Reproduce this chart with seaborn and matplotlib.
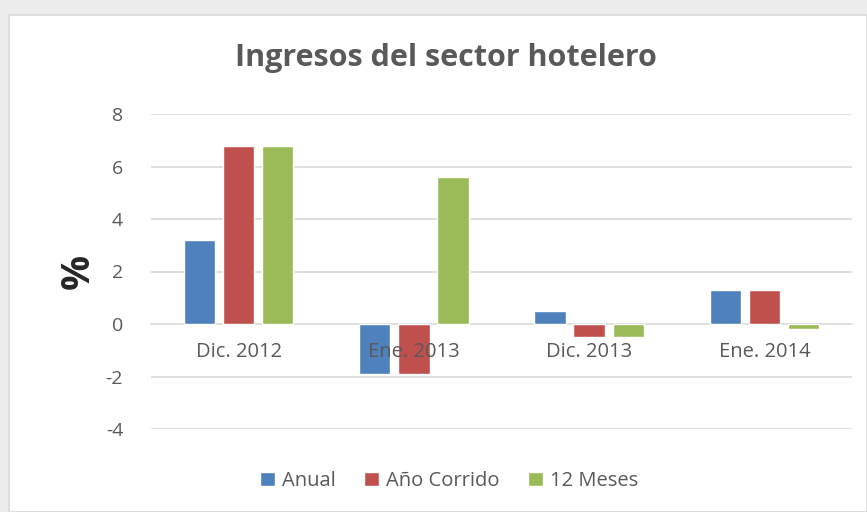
import matplotlib
matplotlib.use("Agg")
import matplotlib.pyplot as plt
import seaborn as sns
import pandas as pd
from matplotlib.patches import Rectangle
from matplotlib.ticker import FixedLocator

categories = ["Dic. 2012", "Ene. 2013", "Dic. 2013", "Ene. 2014"]
series = ["Anual", "Año Corrido", "12 Meses"]
anual = [3.2, -1.9, 0.5, 1.3]
ano_corrido = [6.8, -1.9, -0.5, 1.3]
doce_meses = [6.8, 5.6, -0.5, -0.2]
yticks = [-4, -2, 0, 2, 4, 6, 8]

rows = []
for name, vals in zip(series, [anual, ano_corrido, doce_meses]):
    for c, v in zip(categories, vals):
        rows.append({"Periodo": c, "Serie": name, "Valor": v})
df = pd.DataFrame(rows)

sns.set_theme(style="white")
plt.rcParams['font.family'] = ['Open Sans', 'DejaVu Sans']

fig = plt.figure(figsize=(8.67, 5.12), dpi=100)
fig.patch.set_facecolor('#ececec')
fig.patches.append(Rectangle((9/867, 0), 1 - 9/867, 1 - 15/512, transform=fig.transFigure,
                             facecolor='white', edgecolor='#d9d9d9', linewidth=1.2, zorder=-10))

ax = fig.add_axes([151/867, 1 - 429/512, (852-151)/867, (429-114)/512])
ax.set_zorder(1)
ax.set_facecolor('none')
palette = ["#4F81BD", "#C0504D", "#9BBB59"]
sns.barplot(data=df, x="Periodo", y="Valor", hue="Serie", order=categories, hue_order=series,
            palette=palette, width=0.67, gap=0.2, ax=ax, saturation=1, errorbar=None)

ax.set_ylim(-4, 8)
ax.set_xlim(-0.5, 3.5)
ax.set_yticks(yticks)
ax.set_yticklabels([str(t) for t in yticks], fontsize=14, color='#595959')
ax.tick_params(axis='y', length=0, pad=20)
for t in yticks:
    if t != 0:
        ax.axhline(t, color='#d9d9d9', linewidth=1.2, zorder=0)

for s in ['top', 'right', 'left']:
    ax.spines[s].set_visible(False)
ax.spines['bottom'].set_position(('data', 0))
ax.spines['bottom'].set_color('#d9d9d9')
ax.spines['bottom'].set_linewidth(1.2)
ax.spines['bottom'].set_zorder(0.5)

ax.set_xticks(range(len(categories)))
ax.set_xticklabels(categories, fontsize=14.5, color='#595959')
ax.tick_params(axis='x', which='major', length=0, pad=13)
ax.xaxis.set_minor_locator(FixedLocator([-0.5, 0.5, 1.5, 2.5, 3.5]))
ax.tick_params(axis='x', which='minor', length=6, width=1.2, color='#d9d9d9', direction='out')
ax.xaxis.set_zorder(5)

ax.set_xlabel("")
ax.set_ylabel("%", fontsize=28, fontweight='bold', color='#262626', labelpad=6)

fig.text(446/867, 1 - 58/512, "Ingresos del sector hotelero", ha='center', va='center',
         fontsize=22, fontweight='bold', color='#595959')

ax.legend(loc='center', bbox_to_anchor=(449/867, 1 - 481/512), bbox_transform=fig.transFigure,
          ncol=3, frameon=False, fontsize=14.5, handlelength=0.75, handleheight=0.75,
          handletextpad=0.35, columnspacing=1.4, labelcolor='#595959')

fig.savefig("out.png", dpi=100)
